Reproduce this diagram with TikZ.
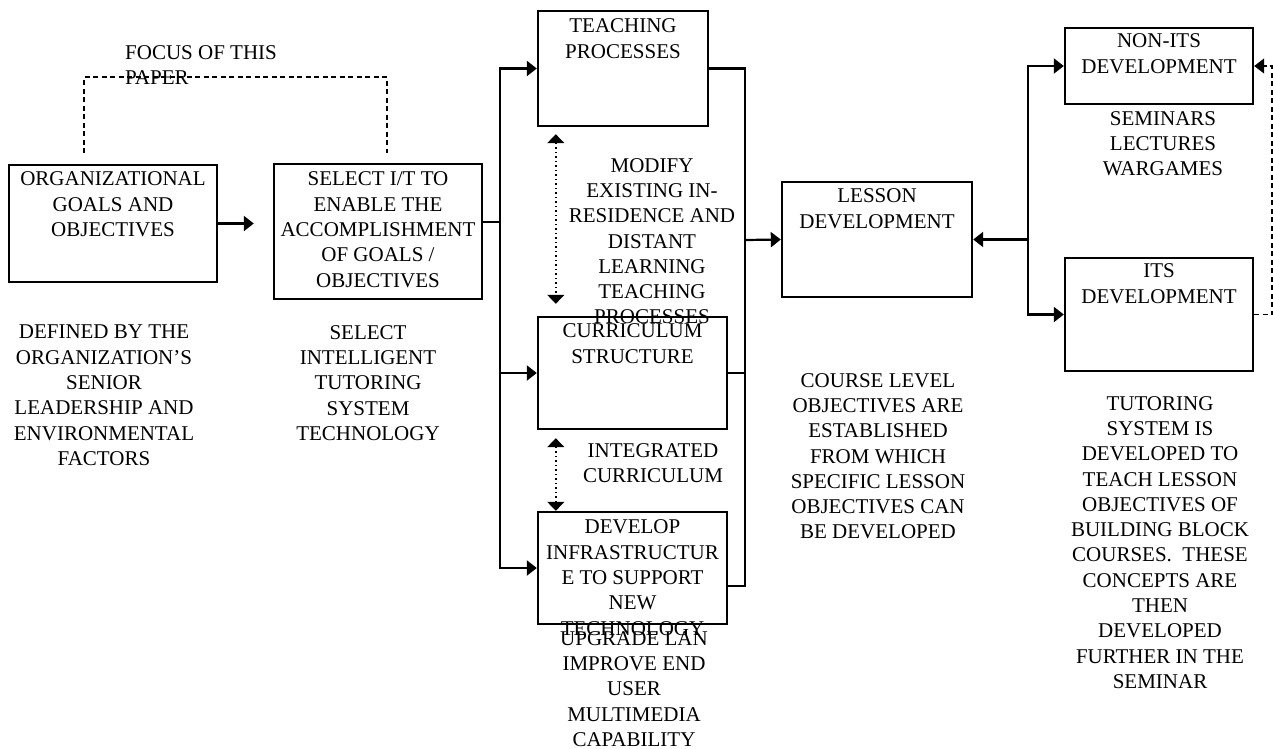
\documentclass[tikz,border=0pt]{standalone}
\usepackage{fontspec}
\setmainfont{Liberation Serif}
\usetikzlibrary{arrows.meta}

\begin{document}
\begin{tikzpicture}[
    x=1pt, y=-1pt,
    font=\fontsize{21}{25.3}\selectfont,
    block/.style={rectangle, draw=black, line width=2.4pt, inner sep=0pt},
    blocktext/.style={anchor=north, align=center, inner sep=0pt},
    note/.style={anchor=north, align=center, inner sep=0pt},
    line/.style={line width=2.2pt},
    arrow/.style={line width=2.2pt, -{Triangle[length=10pt, width=15pt]}},
    focusline/.style={line width=1.5pt, dash pattern=on 5pt off 3.5pt},
    feedback/.style={line width=1.5pt, dash pattern=on 5pt off 3.5pt,
        -{Triangle[length=10pt, width=15pt]}},
    link/.style={line width=1.5pt, dash pattern=on 1.5pt off 3pt,
        {Triangle[length=9pt, width=17pt]}-{Triangle[length=9pt, width=17pt]}}
]
    \useasboundingbox (0,0) rectangle (1273,748);

    \node[block, minimum width=208pt, minimum height=117pt] (org) at (113,223.5) {};
    \node[block, minimum width=208pt, minimum height=135pt] (sel) at (378,231.5) {};
    \node[block, minimum width=170pt, minimum height=115pt] (teach) at (623,68.5) {};
    \node[block, minimum width=189pt, minimum height=112pt] (curr) at (632.5,373) {};
    \node[block, minimum width=189pt, minimum height=112pt] (dev) at (632.5,568) {};
    \node[block, minimum width=190pt, minimum height=115pt] (lesson) at (877,239.5) {};
    \node[block, minimum width=188pt, minimum height=76pt] (nonits) at (1159,66) {};
    \node[block, minimum width=188pt, minimum height=113pt] (its) at (1159,314.5) {};

    \node[blocktext] (orgtxt) at ([yshift=-8pt]org.north) {ORGANIZATIONAL\\GOALS AND\\OBJECTIVES};
    \node[blocktext] (seltxt) at ([yshift=-9pt]sel.north) {SELECT I/T TO\\ENABLE THE\\ACCOMPLISHMENT\\OF GOALS /\\OBJECTIVES};
    \node[blocktext] (teachtxt) at ([yshift=-9pt]teach.north) {TEACHING\\PROCESSES};
    \node[blocktext] (currtxt) at ([yshift=-8pt]curr.north) {CURRICULUM\\STRUCTURE};
    \node[blocktext] (devtxt) at ([yshift=-9pt]dev.north) {DEVELOP\\INFRASTRUCTUR\\E TO SUPPORT\\NEW\\TECHNOLOGY};
    \node[blocktext] (lessontxt) at ([yshift=-8pt]lesson.north) {LESSON\\DEVELOPMENT};
    \node[blocktext] (nonitstxt) at ([yshift=-7pt]nonits.north) {NON-ITS\\DEVELOPMENT};
    \node[blocktext] (itstxt) at ([yshift=-7pt]its.north) {ITS\\DEVELOPMENT};

    \node[note, align=left, anchor=north west] (focus) at (125,45) {FOCUS OF THIS\\PAPER};
    \node[note] (orgnote) at (104,325) {DEFINED BY THE\\ORGANIZATION’S\\SENIOR\\LEADERSHIP AND\\ENVIRONMENTAL\\FACTORS};
    \node[note] (selnote) at (368,325) {SELECT\\INTELLIGENT\\TUTORING\\SYSTEM\\TECHNOLOGY};
    \node[note] (modify) at (652,158) {MODIFY\\EXISTING IN-\\RESIDENCE AND\\DISTANT\\LEARNING\\TEACHING\\PROCESSES};
    \node[note] (integ) at (653,443) {INTEGRATED\\CURRICULUM};
    \node[note] (upgrade) at (634,631) {UPGRADE LAN\\IMPROVE END\\USER\\MULTIMEDIA\\CAPABILITY};
    \node[note] (course) at (878,373) {COURSE LEVEL\\OBJECTIVES ARE\\ESTABLISHED\\FROM WHICH\\SPECIFIC LESSON\\OBJECTIVES CAN\\BE DEVELOPED};
    \node[note] (media) at (1163,111) {SEMINARS\\LECTURES\\WARGAMES};
    \node[note] (tutor) at (1160,396) {TUTORING\\SYSTEM IS\\DEVELOPED TO\\TEACH LESSON\\OBJECTIVES OF\\BUILDING BLOCK\\COURSES.\ \ THESE\\CONCEPTS ARE\\THEN\\DEVELOPED\\FURTHER IN THE\\SEMINAR};

    % focus bracket
    \coordinate (focusl) at (84,153);
    \coordinate (focusr) at (387,153);
    \draw[focusline] (focusl) -- ++(0,-76) -| (focusr);

    \draw[arrow, shorten >=19pt] (org.east) -- (sel.west |- org.east);

    % split to the three efforts
    \coordinate (lsplit) at (500,222);
    \draw[line] (sel.east |- lsplit) -- (lsplit);
    \draw[arrow] (lsplit) |- (teach.west);
    \draw[arrow] (lsplit) |- (curr.west);
    \draw[arrow] (lsplit) |- (dev.west);

    \draw[link] ([xshift=19pt,yshift=-7pt]teach.south west) -- ([xshift=19pt,yshift=12pt]curr.north west);
    \draw[link] ([xshift=19pt,yshift=-8pt]curr.south west) -- ([xshift=19pt]dev.north west);

    % join into lesson development
    \coordinate (rsplit) at (745,240);
    \draw[line] (teach.east) -| (rsplit);
    \draw[line] (curr.east) -| (rsplit);
    \draw[line] ([yshift=-18pt]dev.east) -| (rsplit);
    \draw[arrow] (rsplit) -- (lesson.west);

    \coordinate (dsplit) at (1028,239.5);
    \draw[arrow] (dsplit) -- (lesson.east);
    \draw[arrow] (dsplit) |- (nonits.west);
    \draw[arrow] (dsplit) |- (its.west);

    \draw[feedback] (its.east) -- ++(18,0) |- (nonits.east);
\end{tikzpicture}
\end{document}
